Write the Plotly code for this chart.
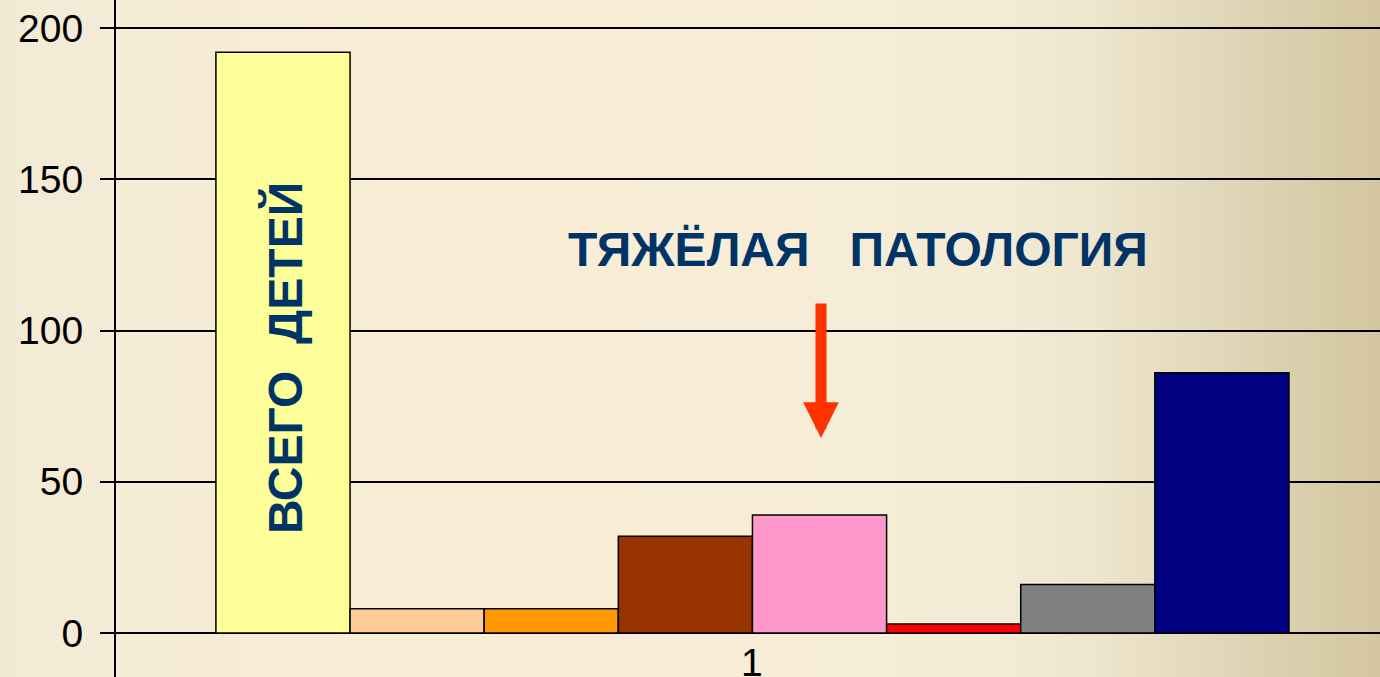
import plotly.graph_objects as go

# ---- data ----
categories = ["1"]
series_names = ["Всего детей", "s2", "s3", "s4", "s5", "s6", "s7", "s8"]
series_values = [192, 8, 8, 32, 39, 3, 16, 86]
series_colors = ["#FFFF99", "#FFCC99", "#FF9900", "#993300",
                 "#FF99CC", "#FF0000", "#808080", "#000080"]
y_ticks = [0, 50, 100, 150, 200]
bar_label = "ВСЕГО\u00a0\u00a0ДЕТЕЙ"
title_text = "ТЯЖЁЛАЯ\u00a0\u00a0\u00a0ПАТОЛОГИЯ"

W, H = 1380, 677
L = 116
FONT = "Liberation Sans, Arial, sans-serif"
NAVY = "#003366"

fig = go.Figure()
for name, val, col in zip(series_names, series_values, series_colors):
    fig.add_trace(go.Bar(
        x=categories, y=[val], name=name,
        marker=dict(color=col, line=dict(color="black", width=1.5)),
        hoverinfo="y",
    ))

# background gradient (stripes, paper-referenced so they sit below gridlines)
stops = [(0, (241, 235, 214)), (200, (246, 236, 214)), (480, (250, 237, 213)),
         (800, (247, 237, 214)), (1000, (243, 236, 214)), (1100, (237, 229, 204)),
         (1250, (222, 211, 180)), (1380, (211, 198, 160))]

def col_at(px):
    for (x0, c0), (x1, c1) in zip(stops[:-1], stops[1:]):
        if x0 <= px <= x1:
            t = (px - x0) / (x1 - x0)
            return "rgb(%d,%d,%d)" % tuple(round(a + (b - a) * t) for a, b in zip(c0, c1))
    return "rgb(%d,%d,%d)" % stops[-1][1]

pw = W - L
shapes = []
step = 4
for px in range(0, W, step):
    shapes.append(dict(type="rect", xref="paper", yref="paper",
                       x0=(px - L) / pw, x1=(px + step + 0.5 - L) / pw, y0=0, y1=1,
                       fillcolor=col_at(px + step / 2), line=dict(width=0), layer="below"))

annotations = [
    dict(x=0, y=-9.6, xref="x", yref="y", text=categories[0], showarrow=False,
         font=dict(family=FONT, size=39, color="black"), xanchor="center", yanchor="middle"),
    dict(x=(285.0 - L) / pw, y=(633 - 358) / 3.025, xref="paper", yref="y",
         text="<b>%s</b>" % bar_label, textangle=-90, showarrow=False,
         font=dict(family=FONT, size=48, color=NAVY), xanchor="center", yanchor="middle"),
    dict(x=(857.5 - L) / pw, y=(633 - 249.5) / 3.025, xref="paper", yref="y",
         text="<b>%s</b>" % title_text, showarrow=False,
         font=dict(family=FONT, size=48, color=NAVY), xanchor="center", yanchor="middle"),
    dict(x=(821 - L) / pw, y=(633 - 438) / 3.025, xref="paper", yref="y",
         ax=0, ay=-(438 - 302), axref="pixel", ayref="pixel", text="",
         showarrow=True, arrowhead=2, arrowwidth=11, arrowsize=0.65, arrowcolor="#FF3300"),
]

fig.update_layout(
    width=W, height=H,
    margin=dict(l=L, r=0, t=0, b=0),
    paper_bgcolor="rgb(241,235,214)", plot_bgcolor="rgba(0,0,0,0)",
    barmode="group", bargap=0.157, bargroupgap=0,
    showlegend=False,
    shapes=shapes, annotations=annotations,
    font=dict(family=FONT, color="black"),
)
fig.update_xaxes(type="category", range=[-0.5, 0.493], showticklabels=False,
                 showgrid=False, zeroline=False, showline=False, ticks="")
fig.update_yaxes(range=[-14.55, 209.26], tickvals=y_ticks, ticktext=[str(v) for v in y_ticks],
                 showgrid=True, gridcolor="black", gridwidth=1.5,
                 zeroline=True, zerolinecolor="black", zerolinewidth=2,
                 showline=True, linecolor="black", linewidth=2,
                 ticks="outside", ticklen=14, tickwidth=1.5, tickcolor="black",
                 ticklabelstandoff=9,
                 tickfont=dict(family=FONT, size=39, color="black"))

fig.write_html("out.html", config={"displayModeBar": False},
               post_script="document.body.style.margin='0';document.body.style.overflow='hidden';")
